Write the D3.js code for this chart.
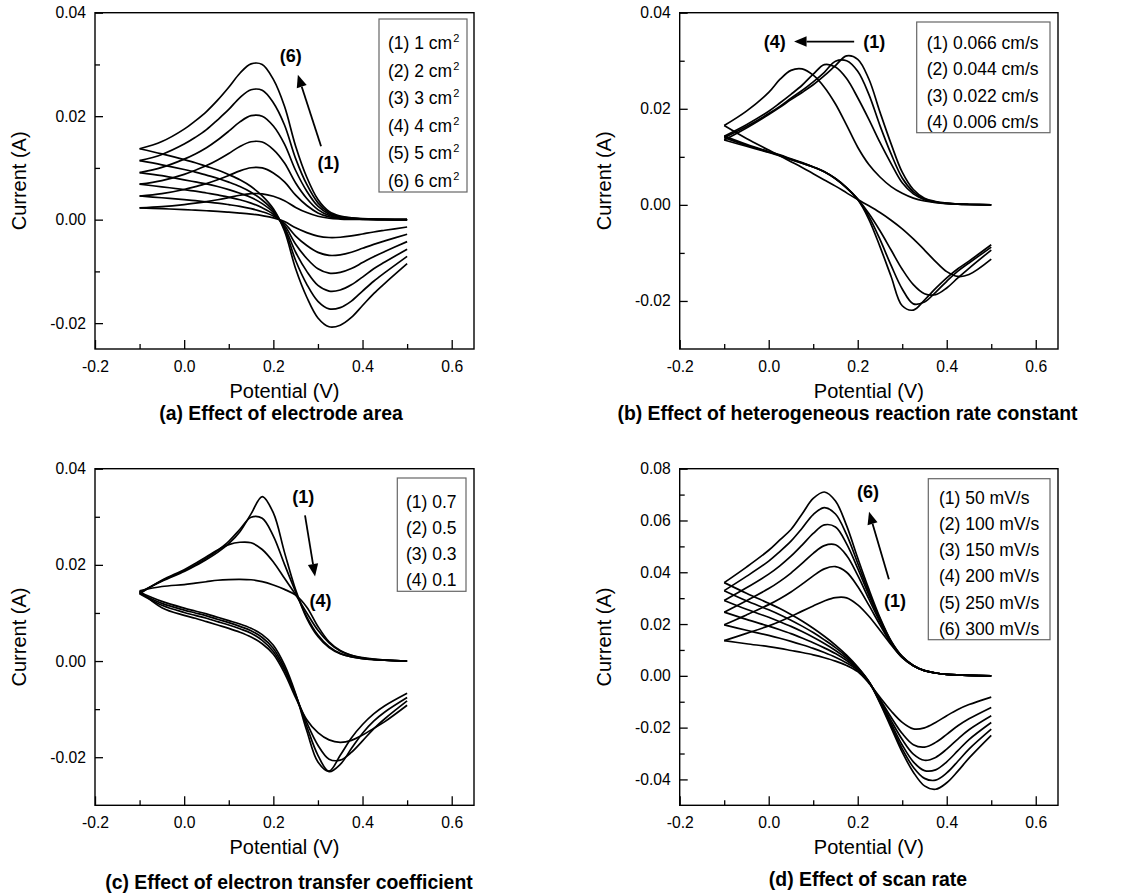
<!DOCTYPE html>
<html>
<head>
<meta charset="utf-8">
<script src="https://cdn.jsdelivr.net/npm/d3@7"></script>
<style>
  body { margin: 0; background: #fff; }
  svg { display: block; font-family: "Liberation Sans", Arial, sans-serif; }
</style>
</head>
<body>
<script>
// potential grid shared by every sweep (V)
var potential = [-0.1, -0.05, 0, 0.025, 0.05, 0.075, 0.1, 0.125, 0.15, 0.175, 0.2, 0.225, 0.25, 0.275, 0.3, 0.325, 0.35, 0.375, 0.4, 0.425, 0.45, 0.5];

// (a) electrode area, currents in mA, forward sweep then reverse sweep
var areaLegend = ["(1) 1 cm", "(2) 2 cm", "(3) 3 cm", "(4) 4 cm", "(5) 5 cm", "(6) 6 cm"];
var areaFwd = [
    [2.28, 2.52, 2.92, 3.18, 3.48, 3.85, 4.27, 4.72, 5.02, 5.0, 4.52, 3.65, 2.37, 1.37, 0.65, 0.27, 0.12, 0.06, 0.03, 0.02, 0.01, 0],
    [4.57, 5.03, 5.83, 6.37, 6.97, 7.7, 8.53, 9.43, 10.03, 10.0, 9.03, 7.3, 4.73, 2.73, 1.3, 0.53, 0.23, 0.12, 0.07, 0.03, 0.02, 0],
    [6.85, 7.55, 8.75, 9.55, 10.45, 11.55, 12.8, 14.15, 15.05, 15.0, 13.55, 10.95, 7.1, 4.1, 1.95, 0.8, 0.35, 0.18, 0.1, 0.05, 0.03, 0],
    [9.1, 10.1, 11.7, 12.7, 13.9, 15.4, 17.1, 18.9, 20.1, 20.0, 18.1, 14.6, 9.5, 5.5, 2.6, 1.07, 0.47, 0.23, 0.13, 0.07, 0.03, 0],
    [11.4, 12.6, 14.6, 15.9, 17.4, 19.3, 21.3, 23.6, 25.1, 25.0, 22.6, 18.3, 11.8, 6.8, 3.25, 1.33, 0.58, 0.29, 0.17, 0.08, 0.04, 0],
    [13.7, 15.1, 17.5, 19.1, 20.9, 23.1, 25.6, 28.3, 30.1, 30.0, 27.1, 21.9, 14.2, 8.2, 3.9, 1.6, 0.7, 0.35, 0.2, 0.1, 0.05, 0]
];
var areaRev = [
    [2.28, 2.12, 1.93, 1.83, 1.72, 1.6, 1.45, 1.28, 1.07, 0.77, 0.35, -0.37, -1.58, -2.5, -3.17, -3.45, -3.4, -3.15, -2.77, -2.38, -2.05, -1.42],
    [4.57, 4.23, 3.87, 3.67, 3.43, 3.2, 2.9, 2.57, 2.13, 1.53, 0.7, -0.73, -3.17, -5.0, -6.33, -6.9, -6.8, -6.3, -5.53, -4.77, -4.1, -2.83],
    [6.85, 6.35, 5.8, 5.5, 5.15, 4.8, 4.35, 3.85, 3.2, 2.3, 1.05, -1.1, -4.75, -7.5, -9.5, -10.35, -10.2, -9.45, -8.3, -7.15, -6.15, -4.25],
    [9.1, 8.5, 7.7, 7.3, 6.9, 6.4, 5.8, 5.1, 4.3, 3.1, 1.4, -1.5, -6.3, -10.0, -12.7, -13.8, -13.6, -12.6, -11.1, -9.5, -8.2, -5.7],
    [11.4, 10.6, 9.7, 9.2, 8.6, 8.0, 7.25, 6.4, 5.3, 3.8, 1.75, -1.8, -7.9, -12.5, -15.8, -17.25, -17.0, -15.75, -13.8, -11.9, -10.25, -7.1],
    [13.7, 12.7, 11.6, 11.0, 10.3, 9.6, 8.7, 7.7, 6.4, 4.6, 2.1, -2.2, -9.5, -15.0, -19.0, -20.7, -20.4, -18.9, -16.6, -14.3, -12.3, -8.5]
];

// (b) heterogeneous rate constant
var rateLegend = ["(1) 0.066 cm/s", "(2) 0.044 cm/s", "(3) 0.022 cm/s", "(4) 0.006 cm/s"];
var rateFwd = [
    [13.5, 16.0, 18.8, 20.3, 21.9, 23.4, 25.0, 26.9, 29.0, 31.0, 30.3, 26.2, 19.3, 12.7, 6.8, 3.2, 1.4, 0.7, 0.35, 0.2, 0.1, 0],
    [14.0, 16.3, 19.0, 20.5, 22.2, 23.8, 25.6, 27.6, 29.9, 30.0, 27.8, 23.0, 16.5, 10.6, 5.6, 2.7, 1.2, 0.6, 0.3, 0.15, 0.08, 0],
    [14.3, 16.7, 19.5, 21.2, 23.0, 24.9, 27.2, 29.2, 28.7, 26.3, 22.3, 17.8, 13.0, 8.6, 4.6, 2.3, 1.1, 0.55, 0.3, 0.15, 0.08, 0],
    [16.5, 19.5, 23.4, 26.1, 28.0, 28.3, 27.0, 24.5, 21.0, 16.6, 12.0, 8.4, 5.8, 3.8, 2.4, 1.4, 0.8, 0.45, 0.25, 0.14, 0.08, 0]
];
var rateRev = [
    [13.5, 12.2, 10.9, 10.2, 9.4, 8.7, 7.9, 6.9, 5.4, 3.5, 1.1, -3.0, -8.7, -14.9, -21.0, -21.9, -19.8, -17.4, -15.2, -13.3, -11.7, -8.3],
    [14.0, 12.4, 11.0, 10.3, 9.5, 8.7, 7.9, 6.9, 5.5, 3.6, 1.2, -2.4, -7.2, -12.6, -17.5, -20.6, -20.2, -18.2, -15.9, -13.8, -12.1, -8.8],
    [14.3, 12.6, 11.1, 10.4, 9.6, 8.8, 7.9, 6.9, 5.5, 3.6, 1.2, -1.8, -5.4, -9.4, -13.4, -16.6, -18.5, -18.7, -17.3, -15.2, -13.2, -9.4],
    [16.5, 13.8, 11.4, 10.2, 9.0, 7.8, 6.5, 5.2, 3.9, 2.5, 1.1, -0.2, -1.6, -3.2, -5.0, -7.1, -9.4, -11.8, -13.9, -14.9, -14.5, -11.3]
];

// (c) electron transfer coefficient
var alphaLegend = ["(1) 0.7", "(2) 0.5", "(3) 0.3", "(4) 0.1"];
var alphaFwd = [
    [14.3, 16.6, 18.6, 19.8, 21.1, 22.6, 24.4, 26.9, 30.6, 34.2, 30.8, 22.6, 14.8, 8.9, 5.1, 2.8, 1.5, 0.85, 0.5, 0.3, 0.18, 0],
    [14.1, 16.7, 18.8, 20.0, 21.4, 23.0, 24.9, 27.4, 29.9, 29.7, 26.0, 20.1, 14.4, 9.2, 5.4, 3.0, 1.6, 0.9, 0.5, 0.3, 0.18, 0],
    [14.0, 16.8, 19.0, 20.3, 21.7, 23.1, 24.2, 24.7, 24.6, 23.2, 20.6, 17.2, 13.8, 10.0, 6.4, 3.8, 2.1, 1.2, 0.65, 0.35, 0.2, 0],
    [14.6, 15.5, 15.9, 16.2, 16.5, 16.8, 16.95, 17.0, 16.9, 16.5, 15.8, 14.9, 13.7, 11.2, 7.2, 4.0, 2.2, 1.2, 0.7, 0.4, 0.2, 0]
];
var alphaRev = [
    [14.3, 12.4, 11.0, 10.4, 9.8, 9.1, 8.4, 7.7, 6.8, 5.5, 3.3, -0.8, -6.8, -14.5, -21.0, -22.9, -19.6, -16.0, -13.2, -11.0, -9.3, -6.7],
    [14.1, 12.0, 10.6, 10.0, 9.4, 8.7, 8.0, 7.2, 6.3, 4.9, 2.6, -1.4, -7.0, -13.6, -19.6, -23.0, -21.5, -18.2, -15.0, -12.5, -10.6, -7.6],
    [14.0, 11.6, 10.1, 9.5, 8.9, 8.2, 7.5, 6.7, 5.8, 4.3, 2.0, -1.9, -7.2, -12.8, -17.5, -20.4, -20.6, -19.0, -16.6, -14.1, -12.0, -8.3],
    [14.6, 11.1, 9.5, 8.9, 8.2, 7.5, 6.8, 6.0, 5.0, 3.6, 1.4, -2.5, -7.6, -12.2, -14.9, -16.4, -16.9, -16.5, -15.4, -14.0, -12.6, -9.2]
];

// (d) scan rate
var scanLegend = ["(1) 50 mV/s", "(2) 100 mV/s", "(3) 150 mV/s", "(4) 200 mV/s", "(5) 250 mV/s", "(6) 300 mV/s"];
var scanFwd = [
    [13.6, 16.4, 19.3, 21.0, 22.9, 25.0, 27.0, 28.9, 30.2, 30.1, 27.4, 23.0, 17.6, 12.0, 7.0, 3.9, 2.0, 1.1, 0.6, 0.35, 0.2, 0],
    [19.7, 23.5, 27.5, 29.8, 32.4, 35.4, 38.6, 41.3, 42.2, 40.0, 34.5, 27.3, 19.7, 12.5, 7.1, 3.9, 2.0, 1.1, 0.6, 0.35, 0.2, 0],
    [24.6, 29.0, 33.7, 36.5, 39.7, 43.4, 47.3, 50.3, 50.6, 46.5, 38.8, 29.7, 20.8, 12.8, 7.2, 3.9, 2.0, 1.1, 0.6, 0.35, 0.2, 0],
    [29.1, 34.0, 39.3, 42.5, 46.2, 50.5, 55.0, 58.3, 57.5, 51.0, 41.5, 31.2, 21.5, 13.1, 7.3, 3.9, 2.0, 1.1, 0.6, 0.35, 0.2, 0],
    [32.9, 38.4, 44.3, 48.0, 52.0, 57.0, 62.3, 65.0, 62.5, 54.5, 43.5, 32.3, 22.0, 13.3, 7.4, 4.0, 2.0, 1.1, 0.6, 0.35, 0.2, 0],
    [36.0, 42.0, 48.5, 52.5, 56.5, 62.5, 68.5, 71.0, 67.5, 58.0, 45.5, 33.5, 22.5, 13.5, 7.5, 4.0, 2.0, 1.1, 0.6, 0.35, 0.2, 0]
];
var scanRev = [
    [13.6, 12.4, 11.3, 10.6, 9.8, 9.0, 8.1, 7.0, 5.7, 4.0, 1.6, -2.8, -8.3, -13.6, -18.0, -20.5, -20.1, -18.0, -15.4, -13.0, -11.1, -8.2],
    [19.7, 17.6, 15.6, 14.5, 13.3, 12.0, 10.6, 9.0, 7.2, 5.0, 2.2, -2.5, -9.0, -16.0, -22.3, -26.6, -27.5, -25.7, -22.6, -19.3, -16.6, -12.2],
    [24.6, 21.8, 19.2, 17.8, 16.3, 14.6, 12.8, 10.8, 8.6, 5.9, 2.6, -2.4, -9.5, -17.3, -24.6, -30.2, -32.6, -31.5, -28.3, -24.4, -20.8, -15.4],
    [29.1, 25.7, 22.6, 20.9, 19.1, 17.1, 14.9, 12.5, 9.8, 6.7, 2.9, -2.3, -9.9, -18.4, -26.7, -33.2, -36.6, -36.3, -33.2, -28.9, -24.6, -18.0],
    [32.9, 29.0, 25.5, 23.6, 21.5, 19.2, 16.7, 13.9, 10.9, 7.4, 3.2, -2.2, -10.2, -19.3, -28.2, -35.3, -39.6, -40.3, -37.5, -33.0, -28.3, -20.6],
    [36.0, 31.9, 28.0, 26.0, 23.7, 21.2, 18.4, 15.3, 11.9, 8.0, 3.4, -2.2, -10.5, -20.0, -29.5, -37.2, -42.5, -43.8, -41.3, -36.8, -31.8, -23.0]
];

// axis ticks
var xMajor = [-0.2, 0, 0.2, 0.4, 0.6];
var xMinor = [-0.1, 0.1, 0.3, 0.5];
var captions = ["(a) Effect of electrode area", "(b) Effect of heterogeneous reaction rate constant",
    "(c) Effect of electron transfer coefficient", "(d) Effect of scan rate"];

var svg = d3.select("body")
    .append("svg")
    .attr("width", 1128)
    .attr("height", 895);

var panels = [
    {
        fwd: areaFwd, rev: areaRev, legend: areaLegend, sup: "2", caption: captions[0],
        frame: {left: 95, right: 474, top: 12.7, bottom: 349},
        yDomain: [-0.025, 0.04], yMajor: [-0.02, 0, 0.02, 0.04], yMinor: [-0.01, 0.01, 0.03],
        legendBox: {x: 379, y: 19, w: 88, h: 173, tx: 388, ty: 43, step: 27.6},
        captionX: 281, captionY: 420, titleX: 25.5,
        notes: [{t: "(6)", x: 0.239, y: 0.0316}, {t: "(1)", x: 0.3235, y: 0.011}],
        arrow: [[0.307, 0.0142], [0.255, 0.028]]
    },
    {
        fwd: rateFwd, rev: rateRev, legend: rateLegend, caption: captions[1],
        frame: {left: 679.7, right: 1058, top: 12.7, bottom: 349},
        yDomain: [-0.03, 0.04], yMajor: [-0.02, 0, 0.02, 0.04], yMinor: [-0.01, 0.01, 0.03],
        legendBox: {x: 916.7, y: 22, w: 133.3, h: 110.7, tx: 926.7, ty: 43, step: 26.3},
        captionX: 847.5, captionY: 420, titleX: 611,
        notes: [{t: "(4)", x: 0.0135, y: 0.034}, {t: "(1)", x: 0.237, y: 0.034}],
        arrow: [[0.192, 0.034], [0.057, 0.034]]
    },
    {
        fwd: alphaFwd, rev: alphaRev, legend: alphaLegend, caption: captions[2],
        frame: {left: 95, right: 474, top: 468.7, bottom: 805.3},
        yDomain: [-0.03, 0.04], yMajor: [-0.02, 0, 0.02, 0.04], yMinor: [-0.01, 0.01, 0.03],
        legendBox: {x: 397.3, y: 478, w: 68.7, h: 113.3, tx: 406, ty: 502, step: 25.9},
        captionX: 289, captionY: 888.5, titleX: 25.5,
        notes: [{t: "(1)", x: 0.267, y: 0.0342}, {t: "(4)", x: 0.3056, y: 0.01265}],
        arrow: [[0.271, 0.0303], [0.2935, 0.0176]]
    },
    {
        fwd: scanFwd, rev: scanRev, legend: scanLegend, caption: captions[3],
        frame: {left: 679.7, right: 1058, top: 468.7, bottom: 805.3},
        yDomain: [-0.05, 0.08], yMajor: [-0.04, -0.02, 0, 0.02, 0.04, 0.06, 0.08], yMinor: [-0.03, -0.01, 0.01, 0.03, 0.05, 0.07],
        legendBox: {x: 928.3, y: 478.7, w: 121.7, h: 161, tx: 939, ty: 497.7, step: 26.2},
        captionX: 868, captionY: 885.5, titleX: 611,
        notes: [{t: "(6)", x: 0.223, y: 0.0711}, {t: "(1)", x: 0.284, y: 0.0291}],
        arrow: [[0.270, 0.0373], [0.2254, 0.0634]]
    }
];

panels.forEach(drawPanel);

function drawPanel(p) {
    var f = p.frame;
    var x = d3.scaleLinear().domain([-0.2, 0.65]).range([f.left, f.right]);
    var y = d3.scaleLinear().domain(p.yDomain).range([f.bottom, f.top]);
    var g = svg.append("g");

    // voltammograms: each sweep is its own path, meeting at the -0.1 V vertex
    var line = d3.line()
        .x(function(d, i) { return x(potential[i]); })
        .y(function(d) { return y(d / 1000); })
        .curve(d3.curveCatmullRom.alpha(0.5));

    p.fwd.concat(p.rev).forEach(function(s) {
        g.append("path")
            .attr("d", line(s))
            .attr("fill", "none")
            .attr("stroke", "#000")
            .attr("stroke-width", 1.7);
    });

    // axes with inward ticks
    var xAxis = g.append("g")
        .attr("transform", "translate(0," + f.bottom + ")")
        .call(d3.axisBottom(x).tickValues(xMajor).tickSizeInner(-9).tickSizeOuter(0).tickPadding(11.8)
            .tickFormat(function(d) { return d.toFixed(1); }));
    g.append("g")
        .attr("transform", "translate(0," + f.bottom + ")")
        .call(d3.axisBottom(x).tickValues(xMinor).tickSizeInner(-5).tickSizeOuter(0).tickFormat(""));
    var yAxis = g.append("g")
        .attr("transform", "translate(" + f.left + ",0)")
        .call(d3.axisLeft(y).tickValues(p.yMajor).tickSizeInner(-8).tickSizeOuter(0).tickPadding(9)
            .tickFormat(function(d) { return d.toFixed(2); }));
    g.append("g")
        .attr("transform", "translate(" + f.left + ",0)")
        .call(d3.axisLeft(y).tickValues(p.yMinor).tickSizeInner(-5).tickSizeOuter(0).tickFormat(""));

    g.selectAll(".domain").remove();
    g.selectAll(".tick line").attr("stroke", "#000").attr("stroke-width", 1.3);
    [xAxis, yAxis].forEach(function(a) {
        a.attr("font-size", 15.7).attr("font-family", null)
            .selectAll("text").attr("fill", "#000");
    });

    // frame
    g.append("rect")
        .attr("x", f.left).attr("y", f.top)
        .attr("width", f.right - f.left).attr("height", f.bottom - f.top)
        .attr("fill", "none").attr("stroke", "#000").attr("stroke-width", 1.4);

    // axis titles
    g.append("text")
        .attr("x", (f.left + f.right) / 2)
        .attr("y", f.bottom + 48.5)
        .attr("text-anchor", "middle")
        .attr("font-size", 20)
        .text("Potential (V)");
    g.append("text")
        .attr("transform", "translate(" + p.titleX + "," + (f.top + f.bottom) / 2 + ") rotate(-90)")
        .attr("text-anchor", "middle")
        .attr("font-size", 20)
        .text("Current (A)");

    // caption under each panel
    g.append("text")
        .attr("x", p.captionX)
        .attr("y", p.captionY)
        .attr("text-anchor", "middle")
        .attr("font-size", 19.4)
        .attr("font-weight", "bold")
        .text(p.caption);

    // legend
    var lb = p.legendBox;
    g.append("rect")
        .attr("x", lb.x).attr("y", lb.y).attr("width", lb.w).attr("height", lb.h)
        .attr("fill", "#fff").attr("stroke", "#666").attr("stroke-width", 1.2);
    p.legend.forEach(function(t, i) {
        var txt = g.append("text")
            .attr("x", lb.tx)
            .attr("y", lb.ty + i * lb.step + 6)
            .attr("font-size", 17.5)
            .text(t);
        if (p.sup) {
            txt.append("tspan").attr("font-size", 11).attr("dy", -7).attr("dx", 1).text(p.sup);
        }
    });

    // annotations
    p.notes.forEach(function(n) {
        g.append("text")
            .attr("x", x(n.x))
            .attr("y", y(n.y) + 6.3)
            .attr("text-anchor", "middle")
            .attr("font-size", 18)
            .attr("font-weight", "bold")
            .text(n.t);
    });
    var x0 = x(p.arrow[0][0]), y0 = y(p.arrow[0][1]);
    var x1 = x(p.arrow[1][0]), y1 = y(p.arrow[1][1]);
    var ang = Math.atan2(y1 - y0, x1 - x0);
    var len = 12.5, hw = 5.2;
    var bx = x1 - len * Math.cos(ang), by = y1 - len * Math.sin(ang);
    g.append("line")
        .attr("x1", x0).attr("y1", y0).attr("x2", bx).attr("y2", by)
        .attr("stroke", "#000").attr("stroke-width", 1.8);
    g.append("path")
        .attr("d", "M" + x1 + "," + y1 +
            "L" + (bx + hw * Math.sin(ang)) + "," + (by - hw * Math.cos(ang)) +
            "L" + (bx - hw * Math.sin(ang)) + "," + (by + hw * Math.cos(ang)) + "Z")
        .attr("fill", "#000");
}
</script>
</body>
</html>
